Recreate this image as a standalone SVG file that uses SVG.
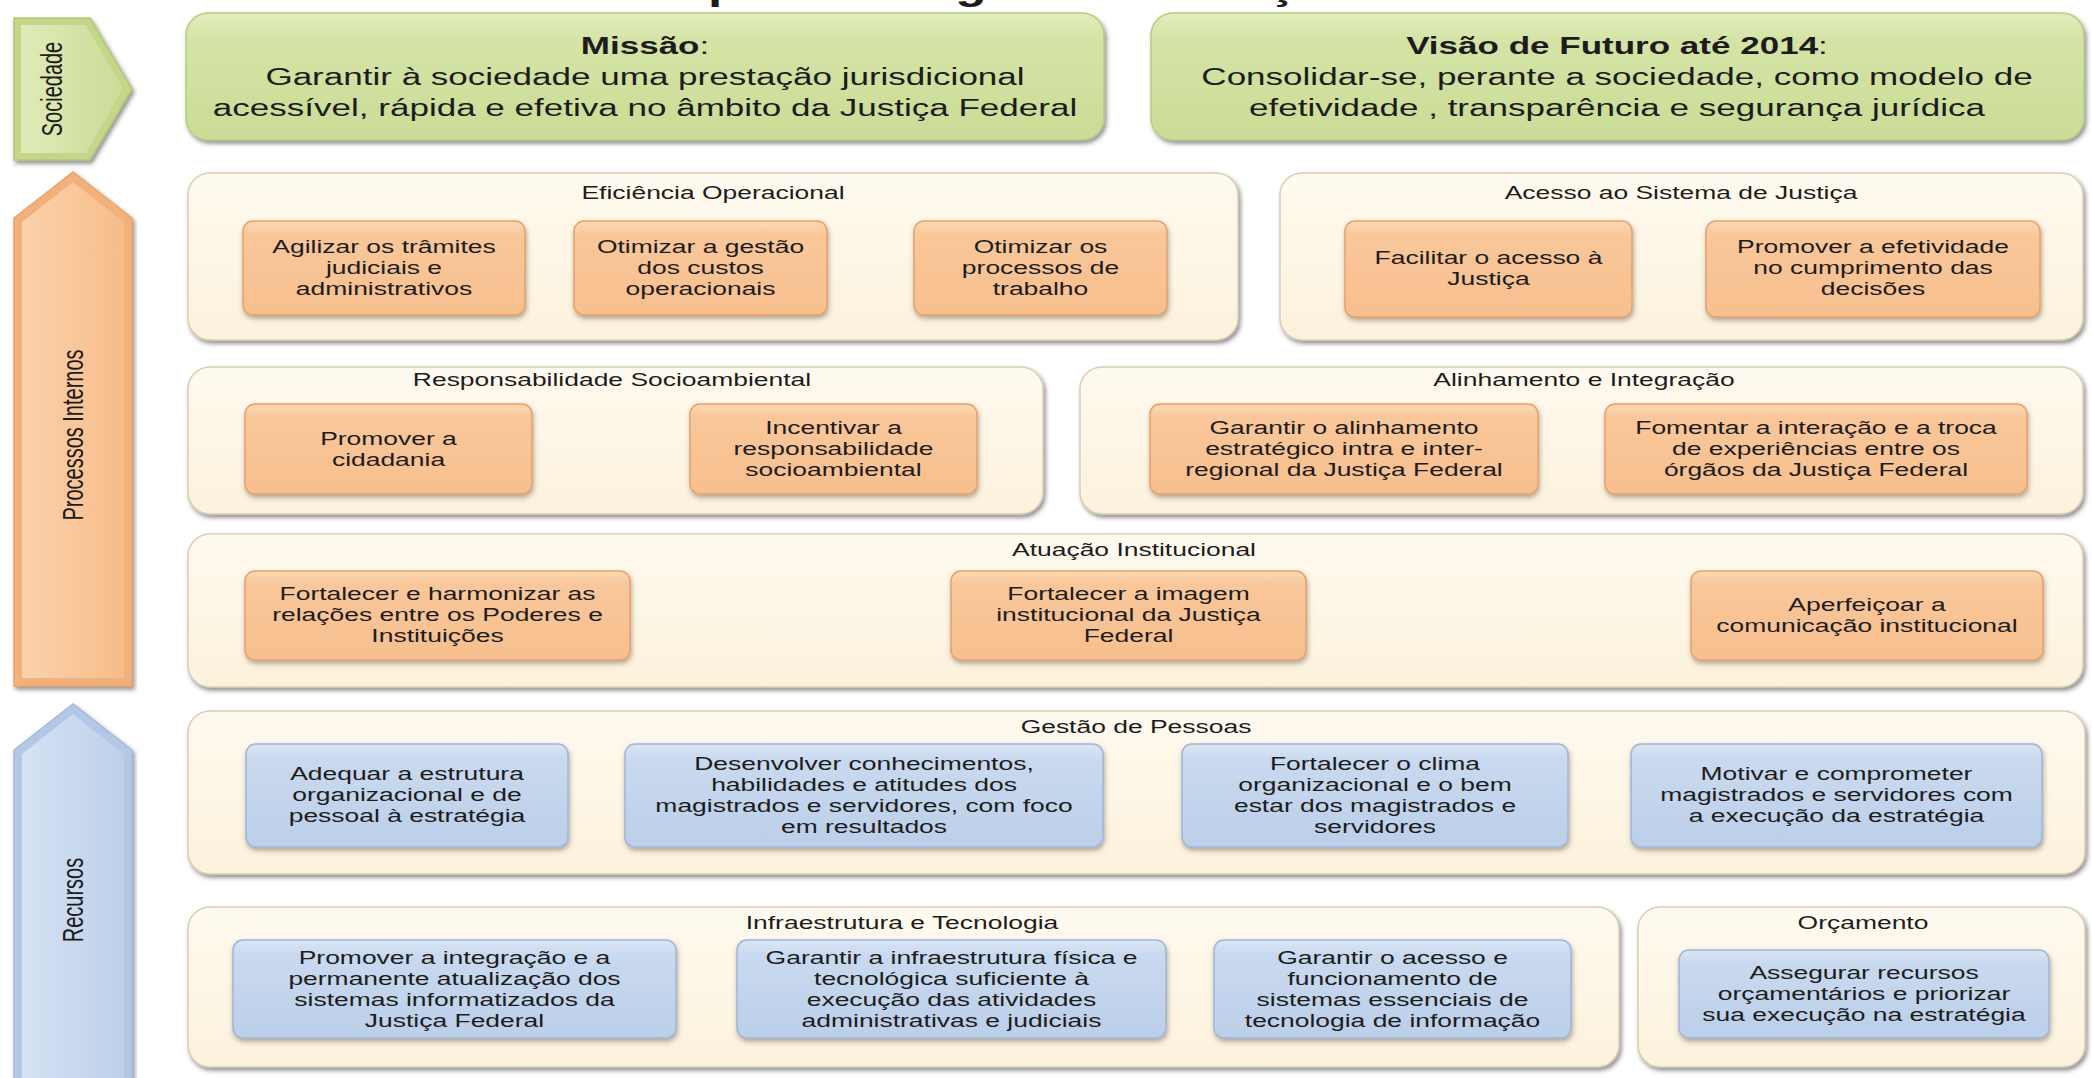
<svg xmlns="http://www.w3.org/2000/svg" width="2092" height="1078" viewBox="0 0 2092 1078">
<defs>
<linearGradient id="gCream" x1="0" y1="0" x2="0" y2="1"><stop offset="0" stop-color="#fffaf0"/><stop offset="1" stop-color="#fcf2dc"/></linearGradient>
<linearGradient id="gOr" x1="0" y1="0" x2="0" y2="1"><stop offset="0" stop-color="#fdd9b4"/><stop offset="0.15" stop-color="#f9c79a"/><stop offset="1" stop-color="#f7bf8e"/></linearGradient>
<linearGradient id="gBl" x1="0" y1="0" x2="0" y2="1"><stop offset="0" stop-color="#dbe6f5"/><stop offset="0.15" stop-color="#c9d9ef"/><stop offset="1" stop-color="#bccfe9"/></linearGradient>
<linearGradient id="gGr" x1="0" y1="0" x2="0" y2="1"><stop offset="0" stop-color="#e2edbd"/><stop offset="0.2" stop-color="#d5e4a6"/><stop offset="1" stop-color="#cadc96"/></linearGradient>
<linearGradient id="aOr" x1="0" y1="0" x2="1" y2="0"><stop offset="0" stop-color="#fbd2ab"/><stop offset="1" stop-color="#f7bc8a"/></linearGradient>
<linearGradient id="aBl" x1="0" y1="0" x2="1" y2="0"><stop offset="0" stop-color="#d6e2f3"/><stop offset="1" stop-color="#bdd0ea"/></linearGradient>
<linearGradient id="aGr" x1="0" y1="0" x2="1" y2="0"><stop offset="0" stop-color="#e0ebb8"/><stop offset="1" stop-color="#cbdc97"/></linearGradient>
<filter id="sh" x="-5%" y="-10%" width="110%" height="130%"><feDropShadow dx="2" dy="3" stdDeviation="2" flood-color="#3a3a3a" flood-opacity="0.55"/></filter>
<filter id="sh2" x="-5%" y="-10%" width="110%" height="130%"><feDropShadow dx="1" dy="3" stdDeviation="2.5" flood-color="#6b5a48" flood-opacity="0.5"/></filter>
</defs>
<style>
.t{font-family:"Liberation Sans",Arial,sans-serif;fill:#1c1c1c;text-anchor:middle}
.bx{font-size:18.5px}
.ti{font-size:18.5px}
.big{font-size:24.5px}
.lbl{font-size:20px}
.c{fill:url(#gCream);stroke:#d9ceb5;stroke-width:1.5;filter:url(#sh)}
.bo{fill:url(#gOr);stroke:#e5a36c;stroke-width:1.5;filter:url(#sh2)}
.bb{fill:url(#gBl);stroke:#9eb7db;stroke-width:1.5;filter:url(#sh2)}
.bg{fill:url(#gGr);stroke:#b7cd83;stroke-width:1.5;filter:url(#sh)}
</style>
<rect width="2092" height="1078" fill="#ffffff"/>

<g id="title"><g transform="translate(637 -1) scale(1.42 1)"><text class="t" x="0" y="0" style="text-anchor:start;font-size:36px;font-weight:bold">Mapa Estratégico da Justiça Federal</text></g></g>

<g id="arrow-sociedade">
<polygon points="14,18 90,18 132,89 90,160 14,160" fill="#c3d68a" stroke="#b2c878" stroke-width="1.5" filter="url(#sh)"/>
<polygon points="21,25 86,25 123,89 86,153 21,153" fill="url(#aGr)"/>
<g transform="translate(52 89) scale(1.43 1) rotate(-90)"><text class="t lbl" x="0" y="7">Sociedade</text></g>
</g>
<g id="arrow-processos">
<polygon points="14,218 73,172 132,218 132,686 14,686" fill="#f2b07a" stroke="#e9a56e" stroke-width="1.5" filter="url(#sh)"/>
<polygon points="22,222 73,182 124,222 124,678 22,678" fill="url(#aOr)"/>
<g transform="translate(73 435) scale(1.43 1) rotate(-90)"><text class="t lbl" x="0" y="7">Processos Internos</text></g>
</g>
<g id="arrow-recursos">
<polygon points="14,750 73,704 132,750 132,1085 14,1085" fill="#b4c8e6" stroke="#a3bbdf" stroke-width="1.5" filter="url(#sh)"/>
<polygon points="22,754 73,714 124,754 124,1085 22,1085" fill="url(#aBl)"/>
<g transform="translate(73 900) scale(1.43 1) rotate(-90)"><text class="t lbl" x="0" y="7">Recursos</text></g>
</g>

<g id="missao">
<rect class="bg" x="186" y="13" width="918" height="127" rx="22"/>
<g transform="translate(645 0) scale(1.43 1)"><text class="t big" x="0" y="54"><tspan font-weight="bold">Missão</tspan>:</text>
<text class="t big" x="0" y="85">Garantir à sociedade uma prestação jurisdicional</text>
<text class="t big" x="0" y="116">acessível, rápida e efetiva no âmbito da Justiça Federal</text></g>
</g>
<g id="visao">
<rect class="bg" x="1151" y="13" width="933" height="127" rx="22"/>
<g transform="translate(1617 0) scale(1.43 1)"><text class="t big" x="0" y="54"><tspan font-weight="bold">Visão de Futuro até 2014</tspan>:</text>
<text class="t big" x="0" y="85">Consolidar-se, perante a sociedade, como modelo de</text>
<text class="t big" x="0" y="116">efetividade , transparência e segurança jurídica</text></g>
</g>

<g id="eficiencia">
<rect class="c" x="188" y="173" width="1050" height="167" rx="22"/>
<g transform="translate(713 0) scale(1.43 1)"><text class="t ti" x="0" y="199">Eficiência Operacional</text></g>
</g>
<g id="agilizar"><rect class="bo" x="243" y="221" width="282" height="94" rx="10"/>
<g transform="translate(384 0) scale(1.43 1)"><text class="t bx" x="0" y="253.5">Agilizar os trâmites</text><text class="t bx" x="0" y="274.5">judiciais e</text><text class="t bx" x="0" y="295.5">administrativos</text></g></g>
<g id="otimizar-gestao"><rect class="bo" x="574" y="221" width="253" height="94" rx="10"/>
<g transform="translate(700.5 0) scale(1.43 1)"><text class="t bx" x="0" y="253.5">Otimizar a gestão</text><text class="t bx" x="0" y="274.5">dos custos</text><text class="t bx" x="0" y="295.5">operacionais</text></g></g>
<g id="otimizar-processos"><rect class="bo" x="914" y="221" width="253" height="94" rx="10"/>
<g transform="translate(1040.5 0) scale(1.43 1)"><text class="t bx" x="0" y="253.5">Otimizar os</text><text class="t bx" x="0" y="274.5">processos de</text><text class="t bx" x="0" y="295.5">trabalho</text></g></g>

<g id="acesso">
<rect class="c" x="1280" y="173" width="803" height="167" rx="22"/>
<g transform="translate(1681 0) scale(1.43 1)"><text class="t ti" x="0" y="199">Acesso ao Sistema de Justiça</text></g>
</g>
<g id="facilitar"><rect class="bo" x="1345" y="221" width="287" height="96" rx="10"/>
<g transform="translate(1488.5 0) scale(1.43 1)"><text class="t bx" x="0" y="264">Facilitar o acesso à</text><text class="t bx" x="0" y="285">Justiça</text></g></g>
<g id="promover-efetividade"><rect class="bo" x="1706" y="221" width="334" height="96" rx="10"/>
<g transform="translate(1873 0) scale(1.43 1)"><text class="t bx" x="0" y="253.5">Promover a efetividade</text><text class="t bx" x="0" y="274.5">no cumprimento das</text><text class="t bx" x="0" y="295.5">decisões</text></g></g>

<g id="responsabilidade">
<rect class="c" x="188" y="367" width="855" height="147" rx="22"/>
<g transform="translate(612 0) scale(1.43 1)"><text class="t ti" x="0" y="386">Responsabilidade Socioambiental</text></g>
</g>
<g id="cidadania"><rect class="bo" x="245" y="404" width="287" height="90" rx="10"/>
<g transform="translate(388.5 0) scale(1.43 1)"><text class="t bx" x="0" y="445">Promover a</text><text class="t bx" x="0" y="466">cidadania</text></g></g>
<g id="incentivar"><rect class="bo" x="690" y="404" width="287" height="90" rx="10"/>
<g transform="translate(833.5 0) scale(1.43 1)"><text class="t bx" x="0" y="434.5">Incentivar a</text><text class="t bx" x="0" y="455.5">responsabilidade</text><text class="t bx" x="0" y="476.5">socioambiental</text></g></g>

<g id="alinhamento">
<rect class="c" x="1080" y="367" width="1003" height="147" rx="22"/>
<g transform="translate(1584 0) scale(1.43 1)"><text class="t ti" x="0" y="386">Alinhamento e Integração</text></g>
</g>
<g id="garantir-alinhamento"><rect class="bo" x="1150" y="404" width="388" height="90" rx="10"/>
<g transform="translate(1344 0) scale(1.43 1)"><text class="t bx" x="0" y="434.5">Garantir o alinhamento</text><text class="t bx" x="0" y="455.5">estratégico intra  e inter-</text><text class="t bx" x="0" y="476.5">regional da Justiça Federal</text></g></g>
<g id="fomentar"><rect class="bo" x="1605" y="404" width="422" height="90" rx="10"/>
<g transform="translate(1816 0) scale(1.43 1)"><text class="t bx" x="0" y="434.5">Fomentar a interação e a troca</text><text class="t bx" x="0" y="455.5">de experiências entre os</text><text class="t bx" x="0" y="476.5">órgãos da Justiça Federal</text></g></g>

<g id="atuacao">
<rect class="c" x="188" y="534" width="1895" height="153" rx="22"/>
<g transform="translate(1134 0) scale(1.43 1)"><text class="t ti" x="0" y="556">Atuação Institucional</text></g>
</g>
<g id="harmonizar"><rect class="bo" x="245" y="571" width="385" height="89" rx="10"/>
<g transform="translate(437.5 0) scale(1.43 1)"><text class="t bx" x="0" y="600.5">Fortalecer e harmonizar as</text><text class="t bx" x="0" y="621.5">relações entre os Poderes e</text><text class="t bx" x="0" y="642.5">Instituições</text></g></g>
<g id="imagem"><rect class="bo" x="951" y="571" width="355" height="89" rx="10"/>
<g transform="translate(1128.5 0) scale(1.43 1)"><text class="t bx" x="0" y="600.5">Fortalecer a imagem</text><text class="t bx" x="0" y="621.5">institucional da Justiça</text><text class="t bx" x="0" y="642.5">Federal</text></g></g>
<g id="aperfeicoar"><rect class="bo" x="1691" y="571" width="352" height="89" rx="10"/>
<g transform="translate(1867 0) scale(1.43 1)"><text class="t bx" x="0" y="611">Aperfeiçoar a</text><text class="t bx" x="0" y="632">comunicação institucional</text></g></g>

<g id="gestao">
<rect class="c" x="188" y="711" width="1897" height="163" rx="22"/>
<g transform="translate(1136 0) scale(1.43 1)"><text class="t ti" x="0" y="733">Gestão de Pessoas</text></g>
</g>
<g id="adequar"><rect class="bb" x="246" y="744" width="322" height="103" rx="10"/>
<g transform="translate(407 0) scale(1.43 1)"><text class="t bx" x="0" y="780.5">Adequar  a  estrutura</text><text class="t bx" x="0" y="801.5">organizacional e de</text><text class="t bx" x="0" y="822.5">pessoal à  estratégia</text></g></g>
<g id="desenvolver"><rect class="bb" x="625" y="744" width="478" height="103" rx="10"/>
<g transform="translate(864 0) scale(1.43 1)"><text class="t bx" x="0" y="770">Desenvolver conhecimentos,</text><text class="t bx" x="0" y="791">habilidades e atitudes dos</text><text class="t bx" x="0" y="812">magistrados e servidores, com foco</text><text class="t bx" x="0" y="833">em resultados</text></g></g>
<g id="clima"><rect class="bb" x="1182" y="744" width="386" height="103" rx="10"/>
<g transform="translate(1375 0) scale(1.43 1)"><text class="t bx" x="0" y="770">Fortalecer o clima</text><text class="t bx" x="0" y="791">organizacional e o bem</text><text class="t bx" x="0" y="812">estar dos magistrados e</text><text class="t bx" x="0" y="833">servidores</text></g></g>
<g id="motivar"><rect class="bb" x="1631" y="744" width="411" height="103" rx="10"/>
<g transform="translate(1836.5 0) scale(1.43 1)"><text class="t bx" x="0" y="780.5">Motivar e comprometer</text><text class="t bx" x="0" y="801.5">magistrados e servidores com</text><text class="t bx" x="0" y="822.5">a execução da estratégia</text></g></g>

<g id="infra">
<rect class="c" x="188" y="907" width="1431" height="160" rx="22"/>
<g transform="translate(902 0) scale(1.43 1)"><text class="t ti" x="0" y="929">Infraestrutura e Tecnologia</text></g>
</g>
<g id="integracao"><rect class="bb" x="233" y="940" width="443" height="98" rx="10"/>
<g transform="translate(454.5 0) scale(1.43 1)"><text class="t bx" x="0" y="964">Promover a integração e a</text><text class="t bx" x="0" y="985">permanente atualização dos</text><text class="t bx" x="0" y="1006">sistemas informatizados da</text><text class="t bx" x="0" y="1027">Justiça Federal</text></g></g>
<g id="infraestrutura"><rect class="bb" x="737" y="940" width="429" height="98" rx="10"/>
<g transform="translate(951.5 0) scale(1.43 1)"><text class="t bx" x="0" y="964">Garantir a infraestrutura física e</text><text class="t bx" x="0" y="985">tecnológica  suficiente à</text><text class="t bx" x="0" y="1006">execução das  atividades</text><text class="t bx" x="0" y="1027">administrativas e judiciais</text></g></g>
<g id="sistemas"><rect class="bb" x="1214" y="940" width="357" height="98" rx="10"/>
<g transform="translate(1392.5 0) scale(1.43 1)"><text class="t bx" x="0" y="964">Garantir o acesso e</text><text class="t bx" x="0" y="985">funcionamento de</text><text class="t bx" x="0" y="1006">sistemas  essenciais de</text><text class="t bx" x="0" y="1027">tecnologia de informação</text></g></g>

<g id="orcamento">
<rect class="c" x="1638" y="907" width="447" height="160" rx="22"/>
<g transform="translate(1863 0) scale(1.43 1)"><text class="t ti" x="0" y="929">Orçamento</text></g>
</g>
<g id="assegurar"><rect class="bb" x="1679" y="950" width="370" height="88" rx="10"/>
<g transform="translate(1864 0) scale(1.43 1)"><text class="t bx" x="0" y="979.5">Assegurar recursos</text><text class="t bx" x="0" y="1000.5">orçamentários e priorizar</text><text class="t bx" x="0" y="1021.5">sua  execução na estratégia</text></g></g>

<g id="connectors"></g>
</svg>
